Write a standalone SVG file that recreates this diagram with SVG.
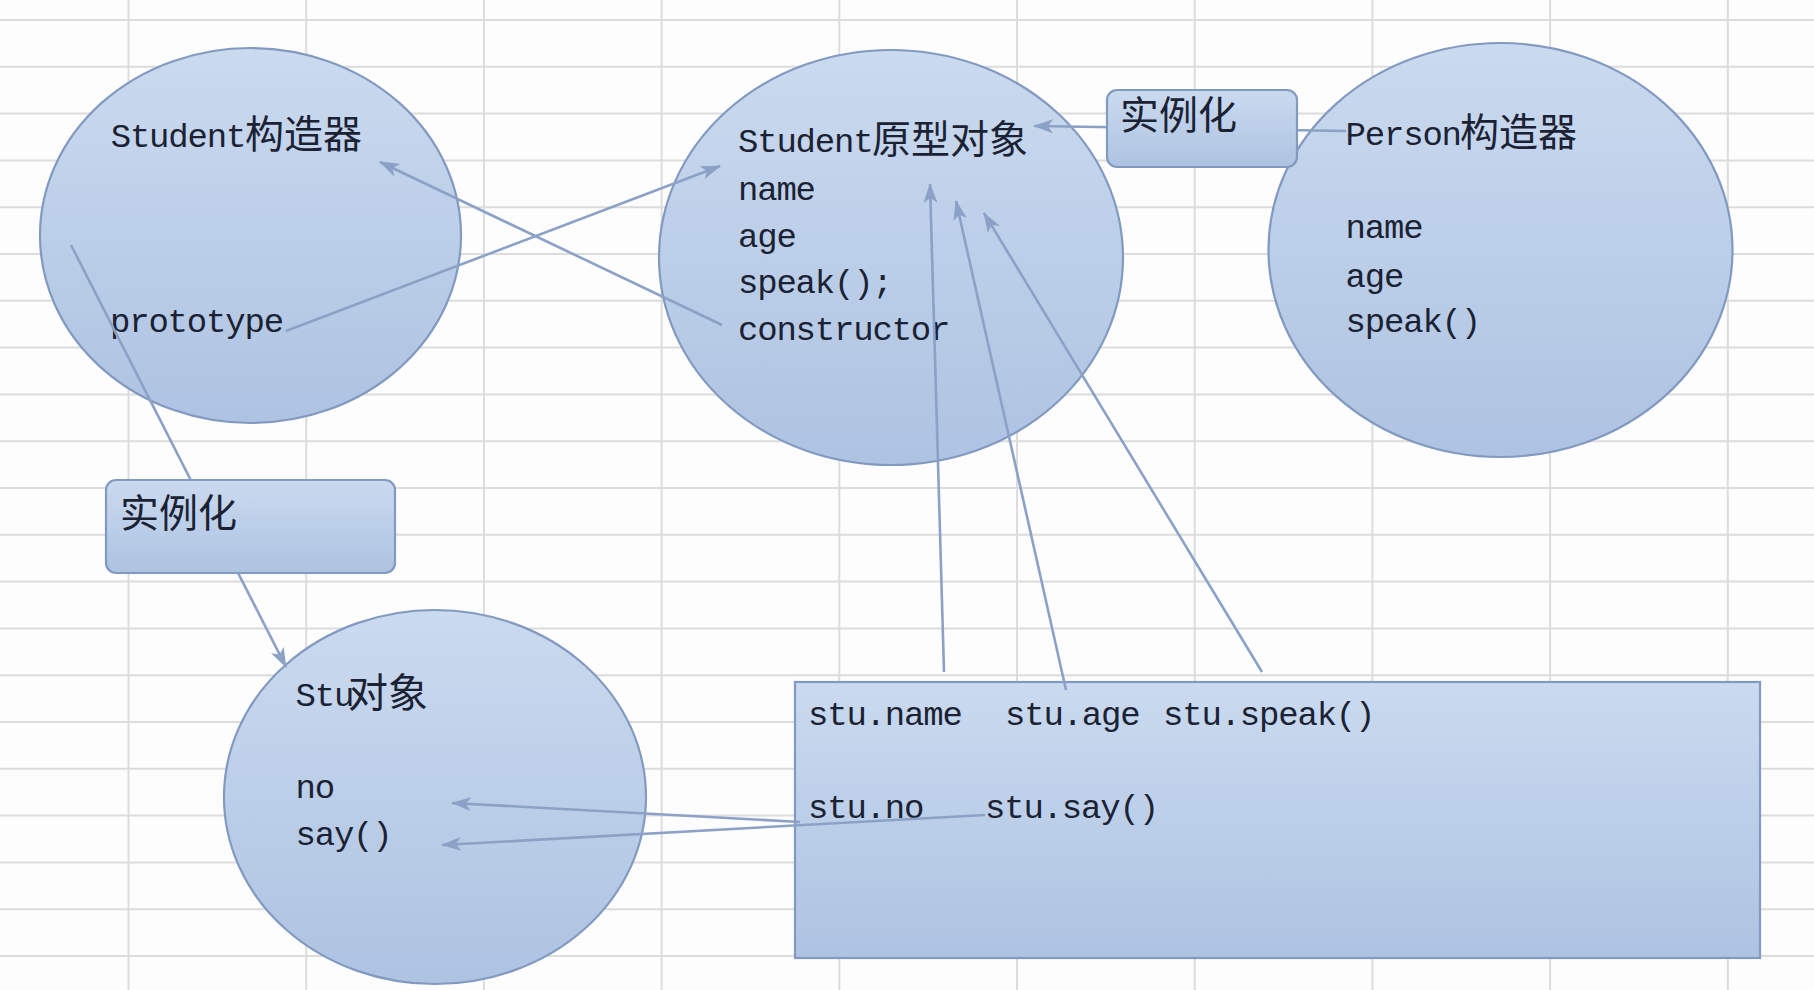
<svg xmlns="http://www.w3.org/2000/svg" width="1814" height="990" viewBox="0 0 1814 990">
<defs>
<linearGradient id="fillG" x1="0" y1="0" x2="0" y2="1">
<stop offset="0" stop-color="#cadaef"/>
<stop offset="1" stop-color="#aec3e2"/>
</linearGradient>
<marker id="arr" markerUnits="userSpaceOnUse" markerWidth="20" markerHeight="16" refX="19" refY="8" orient="auto" viewBox="0 0 20 16">
<path d="M0,1 L20,8 L0,15 L5,8 z" fill="#8ba2c6"/>
</marker>
</defs>
<style>
.shape{fill:url(#fillG);stroke:#8299c0;stroke-width:2.2}
.lat{font-family:"Liberation Mono","DejaVu Sans Mono",monospace;font-size:34px;letter-spacing:-1.2px;fill:#1b2233}
.cjk{font-family:"Noto Sans CJK SC","Noto Sans CJK JP",sans-serif;font-size:39px;fill:#1b2233}
.conn{fill:none;stroke:#8ba2c6;stroke-width:2.6;marker-end:url(#arr)}
.grid{stroke:#dcdcdc;stroke-width:2;fill:none}
</style>
<rect x="0" y="0" width="1814" height="990" fill="#fdfdfd"/>
<g id="grid">
<path class="grid" d="M128.5,0V990 M306.2,0V990 M483.9,0V990 M661.6,0V990 M839.3,0V990 M1017,0V990 M1194.7,0V990 M1372.4,0V990 M1550.1,0V990 M1727.8,0V990"/>
<path class="grid" d="M0,20H1814 M0,66.8H1814 M0,113.6H1814 M0,160.4H1814 M0,207.2H1814 M0,254H1814 M0,300.8H1814 M0,347.6H1814 M0,394.4H1814 M0,441.2H1814 M0,488H1814 M0,534.8H1814 M0,581.6H1814 M0,628.4H1814 M0,675.2H1814 M0,722H1814 M0,768.8H1814 M0,815.6H1814 M0,862.4H1814 M0,909.2H1814 M0,956H1814"/>
</g>
<g id="student-constructor">
<ellipse class="shape" cx="250.5" cy="235.5" rx="210.5" ry="187.5"/>
<text class="lat" x="110.7" y="147">Student</text>
<text class="cjk" x="245" y="148">构造器</text>
<text class="lat" x="110" y="332">prototype</text>
</g>
<g id="student-prototype">
<ellipse class="shape" cx="891" cy="257.5" rx="232" ry="207.5"/>
<text class="lat" x="738" y="152">Student</text>
<text class="cjk" x="872" y="153">原型对象</text>
<text class="lat" x="738" y="200">name</text>
<text class="lat" x="738" y="247">age</text>
<text class="lat" x="738" y="293">speak();</text>
<text class="lat" x="738" y="340">constructor</text>
</g>
<g id="person-constructor">
<ellipse class="shape" cx="1500.5" cy="250" rx="232" ry="207"/>
<text class="lat" x="1345.6" y="145">Person</text>
<text class="cjk" x="1460" y="146">构造器</text>
<text class="lat" x="1345.6" y="238">name</text>
<text class="lat" x="1345.6" y="287">age</text>
<text class="lat" x="1345.6" y="332">speak()</text>
</g>
<g id="stu-object">
<ellipse class="shape" cx="435" cy="797" rx="211" ry="187"/>
<text class="lat" x="295.5" y="706">Stu</text>
<text class="cjk" x="348" y="707" style="font-size:40px">对象</text>
<text class="lat" x="295.5" y="798">no</text>
<text class="lat" x="295.5" y="845">say()</text>
</g>
<g id="access-box">
<rect class="shape" x="795" y="682" width="965" height="276"/>
<text class="lat" x="808" y="725">stu.name</text>
<text class="lat" x="1005" y="725">stu.age</text>
<text class="lat" x="1163" y="725">stu.speak()</text>
<text class="lat" x="808" y="818">stu.no</text>
<text class="lat" x="985" y="818">stu.say()</text>
</g>
<g id="connectors">
<path class="conn" d="M722,325 L380,162"/>
<path class="conn" d="M286,331 L720,166"/>
<path class="conn" d="M1346,131 L1034,126"/>
<path class="conn" d="M71,245 L286,667"/>
<path class="conn" d="M944,672 L930,184"/>
<path class="conn" d="M1066,690 L956,201"/>
<path class="conn" d="M1262,672 L984,213"/>
<path class="conn" d="M800,822 L452,803"/>
<path class="conn" d="M985,815 L442,845"/>
</g>
<g id="instantiate-top">
<rect class="shape" x="1107" y="90" width="190" height="77" rx="10"/>
<text class="cjk" x="1120" y="129">实例化</text>
</g>
<g id="instantiate-left">
<rect class="shape" x="106" y="480" width="289" height="93" rx="10"/>
<text class="cjk" x="120" y="527">实例化</text>
</g>
</svg>
